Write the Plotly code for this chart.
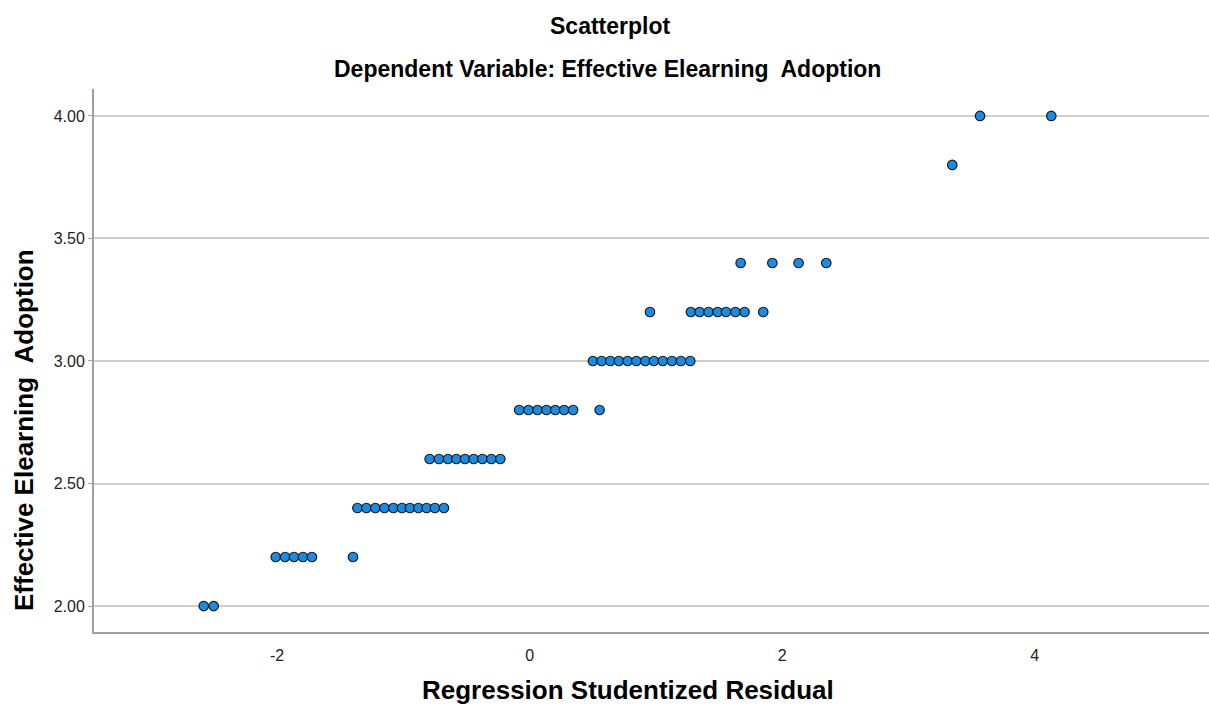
import plotly.graph_objects as go

# Regression studentized residuals (x) and Effective Elearning Adoption (y)
resid_200 = [-2.581, -2.502]
resid_220 = [-2.011, -1.937, -1.866, -1.795, -1.724, -1.399]
resid_240 = [-1.364, -1.293, -1.222, -1.150, -1.079, -1.011, -0.948, -0.881, -0.816, -0.750, -0.679]
resid_260 = [-0.792, -0.718, -0.647, -0.580, -0.512, -0.443, -0.374, -0.303, -0.232]
resid_280 = [-0.083, -0.010, 0.062, 0.133, 0.203, 0.273, 0.344, 0.554]
resid_300 = [0.501, 0.570, 0.639, 0.707, 0.776, 0.845, 0.916, 0.984, 1.055, 1.127, 1.198, 1.272]
resid_320 = [0.953, 1.277, 1.346, 1.417, 1.489, 1.555, 1.629, 1.702, 1.850]
resid_340 = [1.671, 1.922, 2.130, 2.349]
resid_380 = [3.347]
resid_400 = [3.567, 4.131]

adoption_levels = [2.00, 2.20, 2.40, 2.60, 2.80, 3.00, 3.20, 3.40, 3.80, 4.00]
resid_groups = [resid_200, resid_220, resid_240, resid_260, resid_280,
                resid_300, resid_320, resid_340, resid_380, resid_400]

y_tickvals = [2.0, 2.5, 3.0, 3.5, 4.0]
y_ticktext = ["2.00", "2.50", "3.00", "3.50", "4.00"]
x_tickvals = [-2, 0, 2, 4]
x_ticktext = ["-2", "0", "2", "4"]

xs, ys = [], []
for lvl, grp in zip(adoption_levels, resid_groups):
    xs.extend(grp)
    ys.extend([lvl] * len(grp))

FONT = "Liberation Sans, Arial, sans-serif"

fig = go.Figure()
fig.add_trace(go.Scatter(
    x=xs, y=ys, mode="markers",
    marker=dict(size=9.5, color="#1a8be0", line=dict(color="#1a1a1a", width=1.2)),
    showlegend=False, hoverinfo="x+y",
))

W, H = 1209, 705
ml, mr, mt, mb = 94, 0, 89, 73
ph = H - mt - mb
pw = W - ml - mr

def py(pix):
    return (H - mb - pix) / ph

def px(pix):
    return (pix - ml) / pw

fig.update_layout(
    width=W, height=H,
    margin=dict(l=ml, r=mr, t=mt, b=mb),
    paper_bgcolor="white", plot_bgcolor="white",
    font=dict(family=FONT, color="#000000"),
    xaxis=dict(
        range=[-3.45, 5.38], tickvals=x_tickvals, ticktext=x_ticktext,
        showgrid=False, zeroline=False,
        showline=True, linecolor="#a0a0a0", linewidth=2,
        ticks="", ticklabelstandoff=8,
        tickfont=dict(family=FONT, size=16, color="#222222"),
    ),
    yaxis=dict(
        range=[1.894, 4.11], tickvals=y_tickvals, ticktext=y_ticktext,
        showgrid=True, gridcolor="#cfcfcf", gridwidth=2, zeroline=False,
        showline=True, linecolor="#a0a0a0", linewidth=2,
        ticks="outside", ticklen=4, tickcolor="#a0a0a0", tickwidth=1,
        tickfont=dict(family=FONT, size=16, color="#222222"),
    ),
    annotations=[
        dict(text="<b>Scatterplot</b>", xref="paper", yref="paper",
             x=px(610), y=py(26), xanchor="center", yanchor="middle",
             showarrow=False, font=dict(family=FONT, size=23, color="#000000")),
        dict(text="<b>Dependent Variable: Effective Elearning  Adoption</b>", xref="paper", yref="paper",
             x=px(607), y=py(69), xanchor="center", yanchor="middle",
             showarrow=False, font=dict(family=FONT, size=23, color="#000000")),
        dict(text="<b>Regression Studentized Residual</b>", xref="paper", yref="paper",
             x=px(628), y=py(690), xanchor="center", yanchor="middle",
             showarrow=False, font=dict(family=FONT, size=26, color="#000000")),
        dict(text="<b>Effective Elearning  Adoption</b>", xref="paper", yref="paper",
             x=px(24), y=py(430), xanchor="center", yanchor="middle",
             textangle=-90, showarrow=False, font=dict(family=FONT, size=26, color="#000000")),
    ],
)

fig.write_html(
    "out.html",
    config={"displayModeBar": False},
    post_script="document.body.style.margin='0px';document.body.style.overflow='hidden';",
)
